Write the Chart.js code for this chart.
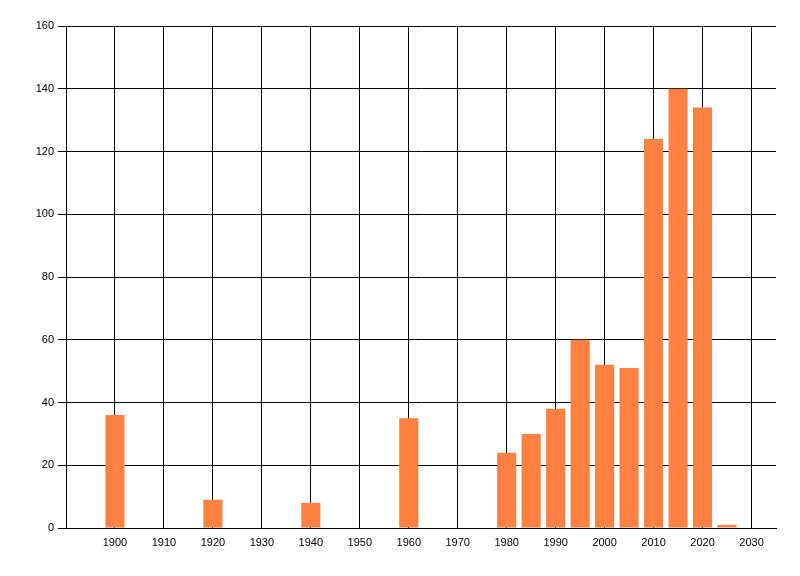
<!DOCTYPE html>
<html>
<head>
<meta charset="utf-8">
<script src="https://cdn.jsdelivr.net/npm/chart.js@4"></script>
<style>
html,body{margin:0;padding:0;background:#fff;}
#wrap{width:800px;height:576px;position:relative;}
</style>
</head>
<body>
<div id="wrap"><canvas id="c" width="800" height="576"></canvas></div>
<script>
const years = [1900, 1920, 1940, 1960, 1980, 1985, 1990, 1995, 2000, 2005, 2010, 2015, 2020, 2025];
const counts = [36, 9, 8, 35, 24, 30, 38, 60, 52, 51, 124, 140, 134, 1];
const xTickLabels = [1900, 1910, 1920, 1930, 1940, 1950, 1960, 1970, 1980, 1990, 2000, 2010, 2020, 2030];
const yTickLabels = [0, 20, 40, 60, 80, 100, 120, 140, 160];

const points = years.map((y, i) => ({x: y, y: counts[i]}));
const font = {family: '"Liberation Sans", Arial, sans-serif', size: 11};

new Chart(document.getElementById('c'), {
  type: 'bar',
  data: {
    datasets: [{
      data: points,
      backgroundColor: '#ff8142',
      borderWidth: 0,
      barPercentage: 0.78,
      categoryPercentage: 1.0
    }]
  },
  options: {
    responsive: false,
    animation: false,
    devicePixelRatio: 1,
    layout: {padding: {left: 0, right: 24, top: 26, bottom: 0}},
    plugins: {legend: {display: false}, tooltip: {enabled: false}},
    scales: {
      x: {
        type: 'linear',
        offset: false,
        min: 1890,
        max: 2035,
        afterBuildTicks: (scale) => { scale.ticks = xTickLabels.map(v => ({value: v})); },
        afterFit: (scale) => { scale.height = 48; },
        grid: {offset: false, color: '#000', lineWidth: 1, drawTicks: false},
        border: {display: true, color: '#000', width: 1},
        ticks: {color: '#000', font: font, padding: 8, maxRotation: 0, autoSkip: false, callback: (v) => String(v)}
      },
      y: {
        min: 0,
        max: 160,
        afterBuildTicks: (scale) => { scale.ticks = yTickLabels.map(v => ({value: v})); },
        afterFit: (scale) => { scale.width = 66; },
        grid: {color: '#000', lineWidth: 1, drawTicks: true, tickLength: 8},
        border: {display: true, color: '#000', width: 1},
        ticks: {color: '#000', font: font, padding: 4, callback: (v) => String(v)}
      }
    }
  }
});
</script>
</body>
</html>
